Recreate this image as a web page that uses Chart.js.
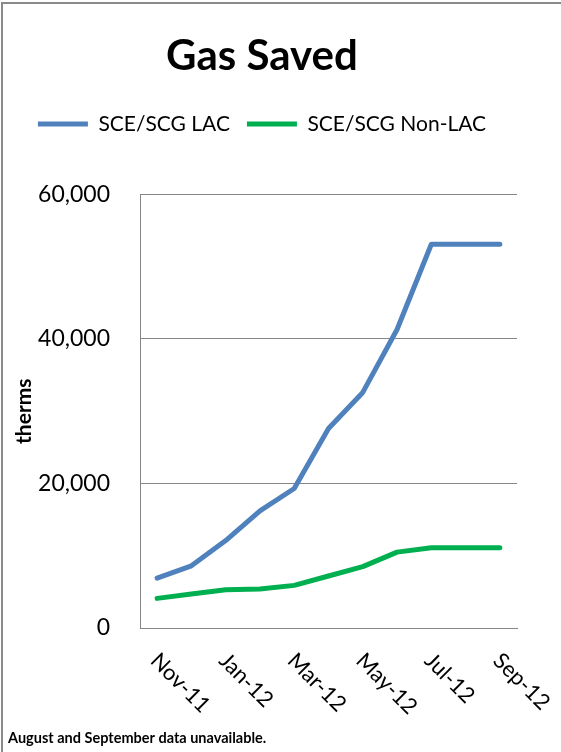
<!DOCTYPE html>
<html>
<head>
<meta charset="utf-8">
<title>Gas Saved</title>
<script src="https://cdn.jsdelivr.net/npm/chart.js@4/dist/chart.umd.min.js"></script>
<style>
  html, body { margin: 0; padding: 0; background: #ffffff; }
  canvas { display: block; }
</style>
</head>
<body>
<canvas id="gas" width="561" height="752"></canvas>
<script>
// Monthly cumulative gas savings (therms)
const months = ['Nov-11', 'Dec-11', 'Jan-12', 'Feb-12', 'Mar-12', 'Apr-12',
                'May-12', 'Jun-12', 'Jul-12', 'Aug-12', 'Sep-12'];
const lacTherms = [6900, 8600, 12100, 16200, 19300, 27600, 32600, 41300, 53100, 53100, 53100];
const nonLacTherms = [4100, 4700, 5300, 5400, 5900, 7200, 8500, 10500, 11100, 11100, 11100];
const yTicks = [0, 20000, 40000, 60000];
const footnote = 'August and September data unavailable.';

const FONT = 'Lato';
const GRID = '#868686';

// Every other month gets a diagonal label below the axis
const monthLabelPlugin = {
  id: 'monthLabels',
  afterDraw(chart) {
    const { ctx, scales: { x } } = chart;
    ctx.save();
    ctx.font = '22px ' + FONT;
    ctx.fillStyle = '#000';
    ctx.textAlign = 'left';
    ctx.textBaseline = 'alphabetic';
    months.forEach((m, i) => {
      if (i % 2 !== 0) return;
      const px = x.getPixelForValue(i);
      ctx.save();
      ctx.translate(px - 8, 662);
      ctx.rotate(Math.PI / 4);
      ctx.fillText(m, 0, 0);
      ctx.restore();
    });
    ctx.restore();
  }
};

// Frame lines and footnote
const framePlugin = {
  id: 'frame',
  beforeDraw(chart) {
    const { ctx, width, height } = chart;
    ctx.save();
    ctx.fillStyle = '#ffffff';
    ctx.fillRect(0, 0, width, height);
    ctx.strokeStyle = '#8a8a8a';
    ctx.lineWidth = 2;
    ctx.beginPath();
    ctx.moveTo(2, height);
    ctx.lineTo(2, 3);
    ctx.lineTo(width, 3);
    ctx.stroke();
    ctx.restore();
  },
  afterDraw(chart) {
    const { ctx } = chart;
    ctx.save();
    ctx.font = 'bold 14.5px ' + FONT;
    ctx.fillStyle = '#000';
    ctx.textAlign = 'left';
    ctx.textBaseline = 'middle';
    ctx.fillText(footnote, 8, 738);
    ctx.restore();
  }
};

new Chart(document.getElementById('gas'), {
  type: 'line',
  data: {
    labels: months,
    datasets: [
      {
        label: 'SCE/SCG LAC',
        data: lacTherms,
        borderColor: '#4F81BD',
        backgroundColor: '#4F81BD',
        borderWidth: 5,
        borderCapStyle: 'round',
        borderJoinStyle: 'round'
      },
      {
        label: 'SCE/SCG Non-LAC',
        data: nonLacTherms,
        borderColor: '#00B050',
        backgroundColor: '#00B050',
        borderWidth: 5,
        borderCapStyle: 'round',
        borderJoinStyle: 'round'
      }
    ]
  },
  options: {
    responsive: false,
    animation: false,
    devicePixelRatio: 1,
    layout: { padding: { top: 0, left: 7, right: 44, bottom: 0 } },
    elements: {
      line: { tension: 0, fill: false },
      point: { radius: 0, hoverRadius: 0, pointStyle: 'line' }
    },
    plugins: {
      title: {
        display: true,
        text: 'Gas Saved',
        color: '#000',
        font: { family: FONT, size: 42, weight: 'bold', lineHeight: 1.2 },
        padding: { top: 31, bottom: 15 }
      },
      legend: {
        display: true,
        position: 'top',
        labels: {
          color: '#000',
          font: { family: FONT, size: 21 },
          usePointStyle: true,
          pointStyle: 'line',
          pointStyleWidth: 50,
          padding: 17
        }
      },
      // blank spacer row between the legend and the plot
      subtitle: {
        display: true,
        text: '',
        weight: 500,
        font: { family: FONT, size: 10, lineHeight: 1.2 },
        padding: { top: 0, bottom: 38 }
      },
      tooltip: { enabled: false }
    },
    scales: {
      x: {
        type: 'category',
        offset: true,
        grid: { display: false, drawTicks: false },
        border: { display: true, color: GRID, width: 1 },
        ticks: { display: false },
        afterFit(scale) { scale.height = 124; }
      },
      y: {
        min: 0,
        max: 60000,
        afterBuildTicks(scale) { scale.ticks = yTicks.map(v => ({ value: v })); },
        grid: { color: GRID, lineWidth: 1, drawTicks: false },
        border: { display: true, color: GRID, width: 1 },
        ticks: {
          color: '#000',
          font: { family: FONT, size: 23 },
          padding: 30,
          callback: v => v.toLocaleString('en-US')
        },
        title: {
          display: true,
          text: 'therms',
          color: '#000',
          font: { family: FONT, size: 21, weight: 'bold', lineHeight: 1.2 },
          padding: { top: 5, bottom: 0 }
        },
        afterFit(scale) { scale.width = 133; }
      }
    }
  },
  plugins: [framePlugin, monthLabelPlugin]
});
</script>
</body>
</html>
